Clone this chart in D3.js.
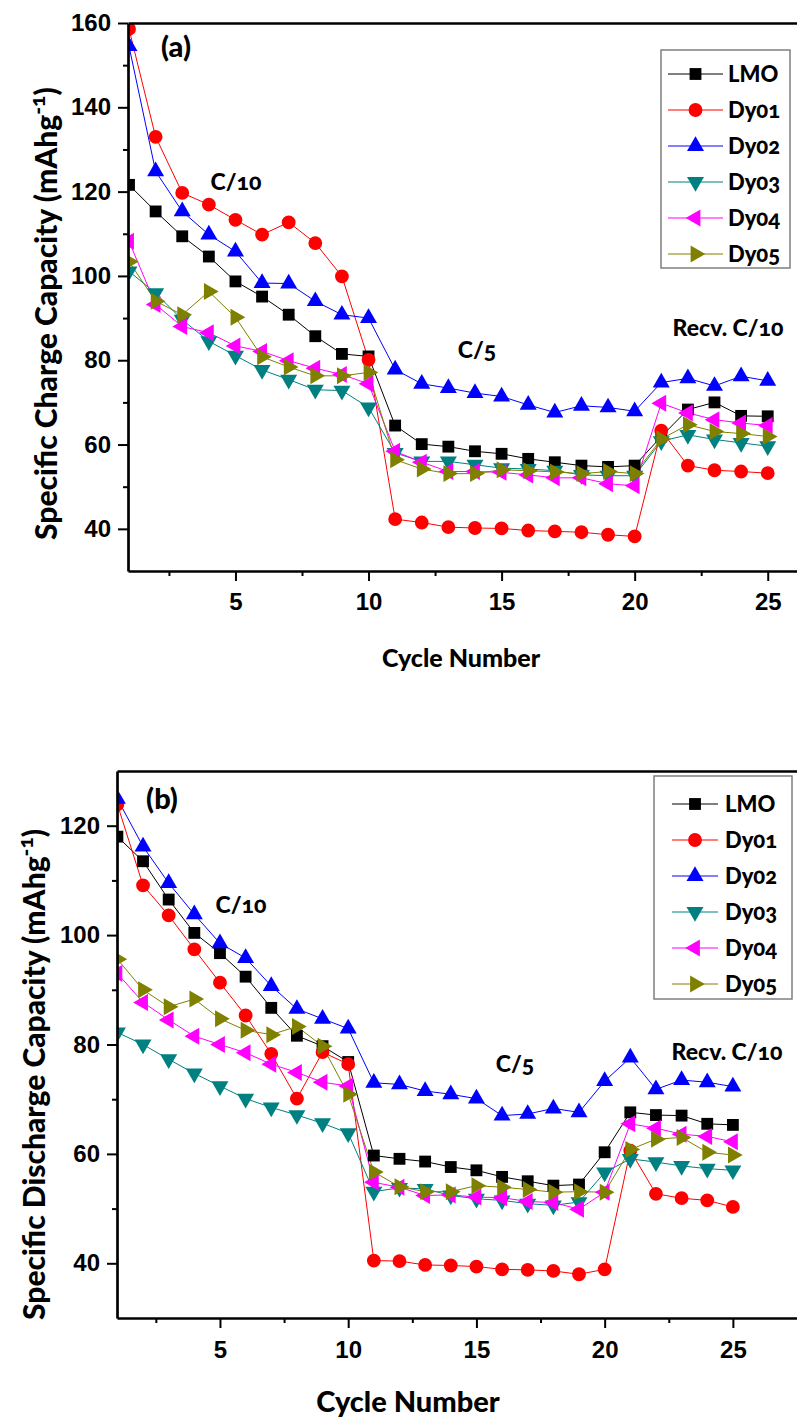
<!DOCTYPE html>
<html lang="en">
<head>
    <meta charset="UTF-8">
    <title>Specific Charge / Discharge Capacity</title>
    <script src="https://d3js.org/d3.v7.min.js"></script>
    <style>
        body {
            margin: 0;
            background: #fff;
        }

        svg {
            display: block;
            font-family: Lato, "Open Sans", sans-serif;
            font-weight: 900;
            font-variant-numeric: oldstyle-nums;
        }

        .axis path,
        .axis line {
            stroke: #000;
        }

        .axis path {
            stroke-width: 2.7px;
        }

        .axis line {
            stroke-width: 2px;
        }

        .axis text {
            font-size: 24px;
            font-weight: 900;
            fill: #000;
        }
    </style>
</head>
<body>
    <svg id="chart"></svg>

    <script>
        // Données
        const cycles = d3.range(1, 26);

        const seriesNames = ["LMO", "Dy01", "Dy02", "Dy03", "Dy04", "Dy05"];
        const seriesColors = ["#000000", "#ff0000", "#0000ff", "#008080", "#ff00ff", "#808000"];

        // (a) capacité de charge
        const chargeLMO  = [121.6, 115.3, 109.4, 104.6, 98.7, 95.1, 90.8, 85.7, 81.5, 80.9,
                            64.5, 60.1, 59.5, 58.4, 57.8, 56.6, 55.8, 55.0, 54.7, 55.0,
                            61.9, 68.3, 70.0, 66.8, 66.7];
        const chargeDy01 = [158.6, 133.0, 119.7, 116.9, 113.3, 109.8, 112.7, 107.8, 99.9, 80.1,
                            42.3, 41.5, 40.4, 40.2, 40.1, 39.6, 39.4, 39.2, 38.6, 38.2,
                            63.3, 55.0, 53.9, 53.6, 53.2];
        const chargeDy02 = [154.5, 124.8, 115.3, 109.8, 105.8, 98.3, 98.2, 94.0, 90.8, 90.0,
                            77.8, 74.4, 73.4, 72.2, 71.4, 69.4, 67.6, 69.2, 68.8, 67.9,
                            74.7, 75.7, 73.9, 76.2, 75.1];
        const chargeDy03 = [101.1, 95.9, 89.6, 84.5, 81.1, 77.7, 75.4, 73.0, 72.8, 68.8,
                            58.0, 56.0, 56.0, 55.2, 54.4, 54.2, 53.8, 52.8, 52.6, 52.6,
                            60.8, 62.3, 61.2, 60.4, 59.6];
        const chargeDy04 = [108.2, 93.2, 88.0, 86.5, 83.4, 82.1, 79.9, 78.1, 76.6, 74.4,
                            58.4, 55.8, 53.6, 53.6, 53.4, 52.8, 52.1, 52.1, 50.7, 50.2,
                            69.8, 67.5, 65.9, 65.1, 64.5];
        const chargeDy05 = [103.4, 94.0, 90.8, 96.3, 90.2, 80.8, 78.4, 76.3, 76.3, 77.1,
                            56.4, 54.2, 53.1, 53.1, 54.0, 53.8, 53.5, 53.1, 53.6, 53.1,
                            61.3, 64.7, 63.1, 62.6, 61.9];

        // (b) capacité de décharge
        const dischargeLMO  = [118.0, 113.5, 106.5, 100.4, 96.7, 92.4, 86.7, 81.6, 79.7, 76.8,
                               59.7, 59.1, 58.6, 57.6, 57.0, 55.8, 55.0, 54.2, 54.4, 60.3,
                               67.6, 67.1, 67.0, 65.5, 65.3];
        const dischargeDy01 = [123.9, 109.1, 103.6, 97.4, 91.3, 85.3, 78.3, 70.1, 78.6, 76.4,
                               40.5, 40.4, 39.7, 39.6, 39.4, 38.9, 38.8, 38.6, 38.0, 38.9,
                               60.6, 52.7, 51.9, 51.5, 50.3];
        const dischargeDy02 = [124.9, 116.2, 109.5, 103.8, 98.5, 95.8, 90.7, 86.5, 84.7, 82.9,
                               73.0, 72.7, 71.5, 70.9, 70.1, 67.0, 67.3, 68.3, 67.6, 73.3,
                               77.6, 71.8, 73.5, 73.1, 72.3];
        const dischargeDy03 = [82.2, 80.0, 77.3, 74.7, 72.4, 70.1, 68.5, 67.1, 65.6, 63.8,
                               53.1, 53.8, 53.6, 52.4, 51.8, 51.5, 50.9, 50.6, 51.2, 56.6,
                               59.1, 58.5, 57.8, 57.3, 57.0];
        const dischargeDy04 = [93.0, 87.7, 84.5, 81.5, 80.0, 78.5, 76.4, 74.9, 73.1, 72.4,
                               54.8, 53.9, 52.4, 52.5, 52.1, 52.0, 51.3, 51.1, 49.9, 53.0,
                               65.5, 64.7, 63.6, 63.2, 62.2];
        const dischargeDy05 = [95.6, 90.0, 86.9, 88.3, 84.7, 82.6, 81.8, 83.3, 79.7, 70.9,
                               56.7, 54.0, 53.1, 53.1, 54.2, 53.9, 53.5, 53.0, 53.1, 53.0,
                               60.8, 62.7, 63.0, 60.3, 59.8];

        const xMajorTicks = [5, 10, 15, 20, 25];
        const xMinorTicks = [2.5, 7.5, 12.5, 17.5, 22.5];

        const W = 797, H = 1418;
        const svg = d3.select("#chart").attr("width", W).attr("height", H);

        // symboles: carré, cercle, triangles haut / bas / gauche / droite
        const symbolDefs = [
            { type: d3.symbolSquare, size: 140, rot: 0 },
            { type: d3.symbolCircle, size: 150, rot: 0 },
            { type: d3.symbolTriangle, size: 125, rot: 0 },
            { type: d3.symbolTriangle, size: 125, rot: 180 },
            { type: d3.symbolTriangle, size: 125, rot: -90 },
            { type: d3.symbolTriangle, size: 125, rot: 90 }
        ];

        function drawPanel(p) {
            const x = d3.scaleLinear().domain(p.xDomain).range([p.left, W]);
            const y = d3.scaleLinear().domain(p.yDomain).range([p.bottom, p.top]);

            const g = svg.append("g");

            const clipId = "clip-" + p.id;
            g.append("clipPath").attr("id", clipId)
                .append("rect")
                .attr("x", p.left + 1).attr("y", p.top)
                .attr("width", W - p.left).attr("height", p.bottom - p.top);

            const plot = g.append("g").attr("clip-path", `url(#${clipId})`);

            const line = d3.line()
                .x((d, i) => x(cycles[i]))
                .y(d => y(d));

            p.series.forEach((vals, s) => {
                plot.append("path")
                    .attr("d", line(vals))
                    .attr("fill", "none")
                    .attr("stroke", seriesColors[s])
                    .attr("stroke-width", 1);
            });

            p.series.forEach((vals, s) => {
                const def = symbolDefs[s];
                const sym = d3.symbol().type(def.type).size(def.size);
                plot.append("g")
                    .selectAll("path")
                    .data(vals)
                    .enter().append("path")
                    .attr("d", sym)
                    .attr("fill", seriesColors[s])
                    .attr("transform", (d, i) => `translate(${x(cycles[i])},${y(d)}) rotate(${def.rot})`);
            });

            // axes
            g.append("g").attr("class", "axis")
                .attr("transform", `translate(0,${p.bottom})`)
                .call(d3.axisBottom(x).tickValues(xMinorTicks).tickSize(5).tickSizeOuter(0).tickFormat(""));
            g.append("g").attr("class", "axis")
                .attr("transform", `translate(0,${p.bottom})`)
                .call(d3.axisBottom(x).tickValues(xMajorTicks).tickSize(10).tickSizeOuter(0).tickPadding(p.xPad))
                .call(a => a.select(".domain").remove());

            g.append("g").attr("class", "axis")
                .attr("transform", `translate(${p.left},0)`)
                .call(d3.axisLeft(y).tickValues(p.yMinor).tickSize(5).tickSizeOuter(0).tickFormat(""));
            g.append("g").attr("class", "axis")
                .attr("transform", `translate(${p.left},0)`)
                .call(d3.axisLeft(y).tickValues(p.yMajor).tickSize(10).tickSizeOuter(0).tickPadding(7))
                .call(a => a.select(".domain").remove());

            g.append("g").attr("class", "axis")
                .attr("transform", `translate(0,${p.top})`)
                .call(d3.axisTop(x).tickValues([]).tickSizeOuter(0));

            // titres
            g.append("text")
                .attr("x", p.xTitle[0]).attr("y", p.xTitle[1])
                .attr("text-anchor", "middle")
                .attr("font-size", p.xTitleSize)
                .text("Cycle Number");

            const yt = g.append("text")
                .attr("transform", `translate(${p.yTitle[0]},${p.yTitle[1]}) rotate(-90)`)
                .attr("text-anchor", "start")
                .attr("font-size", p.yTitleSize)
                .text(p.yLabel + " (mAhg");
            yt.append("tspan").attr("dy", -p.yTitleSize * 0.4)
                .attr("font-size", p.yTitleSize * 0.7).text("-1");
            yt.append("tspan").attr("dy", p.yTitleSize * 0.4).text(")");

            // annotations
            p.notes.forEach(n => {
                g.append("text")
                    .attr("x", n.x).attr("y", n.y)
                    .attr("text-anchor", "middle")
                    .attr("font-size", n.size)
                    .text(n.text);
            });

            // légende
            const L = p.legend;
            g.append("rect")
                .attr("x", L.x0).attr("y", L.y0)
                .attr("width", L.x1 - L.x0).attr("height", L.y1 - L.y0)
                .attr("fill", "#fff")
                .attr("stroke", "#7f7f7f")
                .attr("stroke-width", 1.5);

            seriesNames.forEach((name, s) => {
                const cy = L.first + s * L.step;
                g.append("line")
                    .attr("x1", L.lx0).attr("x2", L.lx1)
                    .attr("y1", cy).attr("y2", cy)
                    .attr("stroke", seriesColors[s]).attr("stroke-width", 1.2);
                const def = symbolDefs[s];
                g.append("path")
                    .attr("d", d3.symbol().type(def.type).size(def.size)())
                    .attr("fill", seriesColors[s])
                    .attr("transform", `translate(${(L.lx0 + L.lx1) / 2},${cy}) rotate(${def.rot})`);
                g.append("text")
                    .attr("x", L.tx).attr("y", cy)
                    .attr("dy", "0.35em")
                    .attr("font-size", 22)
                    .text(name);
            });
        }

        drawPanel({
            id: "a",
            left: 128, top: 23, bottom: 571,
            xDomain: [0.962, 26.1],
            yDomain: [30, 160],
            yMajor: [40, 60, 80, 100, 120, 140, 160],
            yMinor: [50, 70, 90, 110, 130, 150],
            xPad: 12,
            series: [chargeLMO, chargeDy01, chargeDy02, chargeDy03, chargeDy04, chargeDy05],
            yLabel: "Specific Charge Capacity",
            yTitle: [57, 540], yTitleSize: 30,
            xTitle: [461, 667], xTitleSize: 25,
            notes: [
                { text: "(a)", x: 176, y: 57, size: 29 },
                { text: "C/10", x: 236, y: 190, size: 23 },
                { text: "C/5", x: 477, y: 358, size: 23 },
                { text: "Recv. C/10", x: 728, y: 336, size: 23 }
            ],
            legend: { x0: 661, y0: 50, x1: 790, y1: 268, first: 74, step: 36, lx0: 668, lx1: 723, tx: 728 }
        });

        drawPanel({
            id: "b",
            left: 117, top: 771, bottom: 1318,
            xDomain: [0.985, 27.5],
            yDomain: [30, 130],
            yMajor: [40, 60, 80, 100, 120],
            yMinor: [50, 70, 90, 110],
            xPad: 13,
            series: [dischargeLMO, dischargeDy01, dischargeDy02, dischargeDy03, dischargeDy04, dischargeDy05],
            yLabel: "Specific Discharge Capacity",
            yTitle: [45, 1320], yTitleSize: 30,
            xTitle: [408, 1412], xTitleSize: 29,
            notes: [
                { text: "(b)", x: 162, y: 809, size: 29 },
                { text: "C/10", x: 241, y: 913, size: 23 },
                { text: "C/5", x: 515, y: 1072, size: 23 },
                { text: "Recv. C/10", x: 727, y: 1060, size: 23 }
            ],
            legend: { x0: 654, y0: 776, x1: 792, y1: 999, first: 804, step: 36, lx0: 672, lx1: 718, tx: 725 }
        });
    </script>
</body>
</html>
